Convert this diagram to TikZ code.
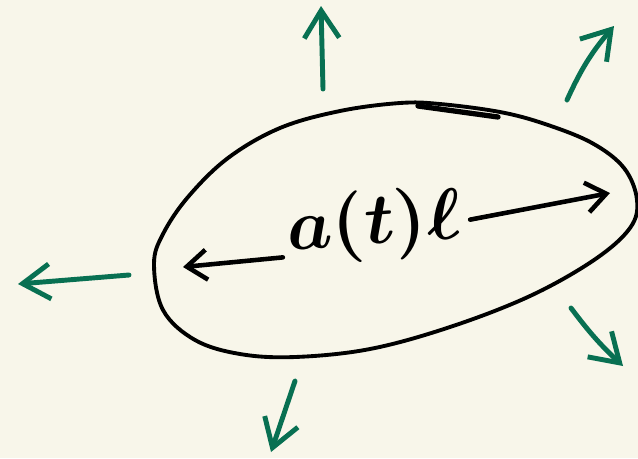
\documentclass[tikz,border=0pt]{standalone}
\usepackage{tikz}
\usetikzlibrary{arrows.meta,positioning}
\usepackage{xcolor}
\definecolor{paper}{RGB}{248,246,234}
\definecolor{flowgreen}{RGB}{8,112,82}

\begin{document}
\begin{tikzpicture}[
    x=0.02cm, y=-0.02cm,
    outline/.style={line width=2.2pt, line cap=round, line join=round},
    span/.style={-{Straight Barb[length=4mm, width=6mm]}, line width=2.6pt, line cap=round},
    push/.style={-{Straight Barb[length=5.5mm, width=7mm]}, line width=2.8pt, line cap=round, draw=flowgreen},
]
    \useasboundingbox[fill=paper] (0,0) rectangle (638,458);

    % the blob
    \draw[outline] plot[smooth cycle, tension=0.6] coordinates {
        (154,264) (163,310) (195,340) (240,354) (295,357) (370,349)
        (450,327) (530,296) (594,260) (630,228) (637,200) (624,168)
        (592,143) (545,124) (500,112) (440,104) (400,103) (340,111)
        (280,128) (228,158) (188,197) (163,234)};
    \draw[outline, line width=3pt] (418,106) -- (498,117);

    \node[scale=4.1, rotate=4, inner sep=0.4pt, font=\boldmath] (len) at (374,226) {$a(t)\ell$};
    \coordinate (ltip) at (183,267);
    \coordinate (rtip) at (610,193);
    \draw[span] ([yshift=-0.5cm]len.west) -- (ltip);
    \draw[span] ([xshift=0.1cm]len.east) -- (rtip);

    % outward flow
    \coordinate (upA) at (323,89);   \coordinate (upB) at (321,6);
    \coordinate (urA) at (567,100);  \coordinate (urB) at (614,26);
    \coordinate (lfA) at (129,275);  \coordinate (lfB) at (18,284);
    \coordinate (lrA) at (571,308);  \coordinate (lrB) at (623,366);
    \coordinate (bmA) at (295,381);  \coordinate (bmB) at (271,452);

    \draw[push] (upA) -- (upB);
    \draw[push] (urA) to[bend left=8] (urB);
    \draw[push] (lfA) -- (lfB);
    \draw[push] (lrA) to[bend right=5] (lrB);
    \draw[push] (bmA) -- (bmB);
\end{tikzpicture}
\end{document}
